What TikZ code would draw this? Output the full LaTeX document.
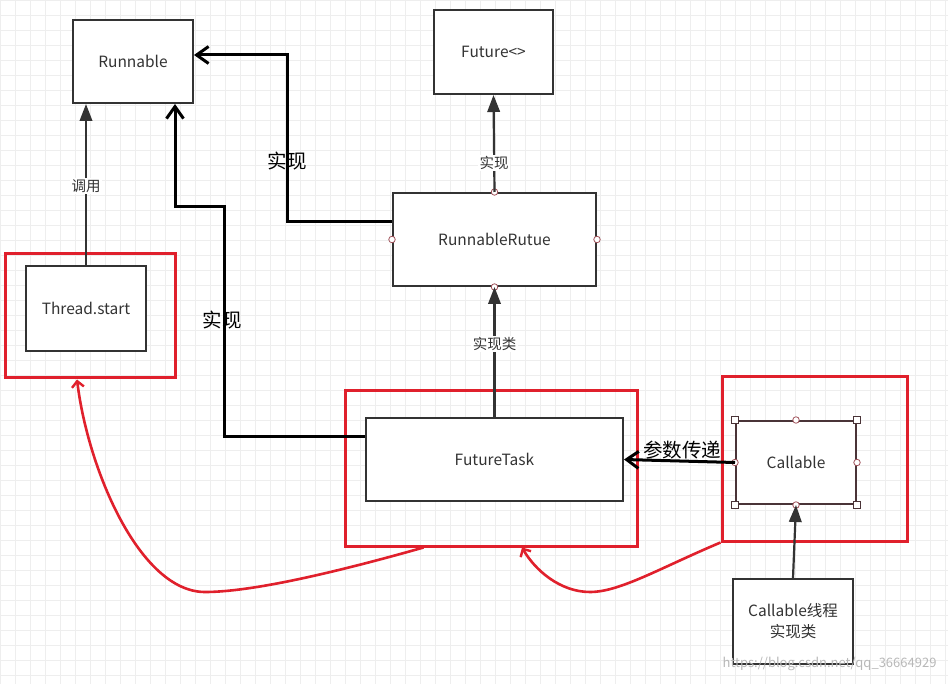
\documentclass[tikz,border=0pt]{standalone}
\usepackage{fontspec}
\setmainfont{Noto Sans CJK SC}
\usetikzlibrary{arrows.meta,calc}
\definecolor{boxc}{HTML}{333333}
\definecolor{redc}{HTML}{E0202C}
\definecolor{handlec}{HTML}{A0525A}
\definecolor{callc}{HTML}{4A3438}
\definecolor{gridc}{HTML}{EEEEEE}
\tikzset{
  umlbox/.style={draw=boxc, line width=2pt, fill=white, text=boxc, inner sep=2pt, align=center, font=\fontsize{15.5}{21}\selectfont},
  redbox/.style={draw=redc, line width=3pt},
  filledarrow/.style={draw=boxc, line width=2.2pt, -{Triangle[length=17pt,width=12.5pt]}},
  thickblack/.style={draw=black, line width=3pt, -{Straight Barb[length=12pt,width=17pt,line width=3pt]}},
  redcurve/.style={draw=redc, line width=2.6pt, -{Straight Barb[length=6pt,width=12pt,line width=2.4pt]}},
  smalllabel/.style={fill=white, text=boxc, inner sep=1.5pt, font=\fontsize{14.5}{16}\selectfont},
  biglabel/.style={text=black, inner sep=0pt, font=\fontsize{19.5}{22}\selectfont},
  handle/.style={circle, draw=handlec, fill=white, line width=0.8pt, minimum size=6.5pt, inner sep=0pt},
  sqhandle/.style={rectangle, draw=callc, fill=white, line width=0.8pt, minimum size=6.5pt, inner sep=0pt},
}
\begin{document}
\begin{tikzpicture}[x=1pt,y=-1pt]
\useasboundingbox (0,0) rectangle (948,684);
\fill[white] (0,0) rectangle (948,684);
% faint background grid
\foreach \gx in {0,15,...,945} \draw[gridc, line width=0.6pt] (\gx,0) -- (\gx,684);
\foreach \gy in {0,15,...,680} \draw[gridc, line width=0.6pt] (0,\gy) -- (948,\gy);

% boxes
\node[umlbox, minimum width=120pt, minimum height=83pt] (runnable) at (133,61.5) {Runnable};
\node[umlbox, minimum width=119pt, minimum height=84pt] (future) at (493.5,52) {Future<>};
\node[umlbox, minimum width=203pt, minimum height=93pt] (rr) at (494.5,239.5) {RunnableRutue};
\node[umlbox, minimum width=120pt, minimum height=85pt] (thread) at (86,308.5) {Thread.start};
\node[umlbox, minimum width=257pt, minimum height=83pt] (ft) at (494.5,459.5) {FutureTask};
\node[umlbox, draw=callc, minimum width=120pt, minimum height=83pt] (callable) at (796,462.5) {Callable};
\node[umlbox, minimum width=120pt, minimum height=85pt] (impl) at (793,621.5) {Callable线程\\实现类};

% red highlight boxes
\node[redbox, minimum width=170pt, minimum height=124pt, inner sep=0pt] (redT) at (90,316) {};
\node[redbox, minimum width=292pt, minimum height=155pt, inner sep=0pt] (redF) at (491,468.5) {};
\node[redbox, minimum width=185pt, minimum height=164pt, inner sep=0pt] (redC) at (814.5,459) {};

% handles on RunnableRutue
\foreach \a in {north,south,east,west} \node[handle] at (rr.\a) {};
% handles on Callable
\foreach \a in {north,south,east,west} \node[handle] at (callable.\a) {};
\foreach \a in {north east,south east,south west,north west} \node[sqhandle] at (callable.\a) {};

% connectors
\draw[filledarrow] (thread.north) -- (thread.north |- runnable.south)
  node[smalllabel, pos=0.49] (lblcall) {调用};
\draw[filledarrow] (rr.north) -- (future.south)
  node[smalllabel, pos=0.3] (lblimpl1) {实现};
\draw[filledarrow] (ft.north) -- (rr.south)
  node[smalllabel, pos=0.56] (lblimpl2) {实现类};
\draw[filledarrow] (impl.north) -- (callable.south);

\coordinate (p1) at ([yshift=17.5pt]rr.west);
\coordinate (p1b) at (287,222);
\draw[thickblack] (p1) -- (p1b) |- ([yshift=6.5pt]runnable.east);
\node[biglabel] (lblA) at (287,161) {实现};

\coordinate (p2) at ([yshift=22.5pt]ft.west);
\coordinate (p2a) at (224,437);
\coordinate (p2b) at (224,207);
\coordinate (p2c) at (175,207);
\draw[thickblack] (p2) -- (p2a) -- (p2b) -- (p2c) -- (p2c |- runnable.south);
\node[biglabel] (lblB) at (222,320) {实现};

\draw[thickblack] (callable.west) -- (ft.east);
\node[biglabel] (lblC) at (682,450) {参数传递};

% red curved arrows
\coordinate (r1s) at ([xshift=80pt]redF.south west);
\coordinate (r1m) at (205,592);
\draw[redcurve] (r1s) .. controls (330,574) and (250,592) .. (r1m)
  .. controls (140,592) and (88,470) .. ([xshift=-13pt]redT.south);
\coordinate (r2m) at (590,592);
\draw[redcurve] (redC.south west) .. controls (660,568) and (620,592) .. (r2m)
  .. controls (560,592) and (535,570) .. ([xshift=31pt]redF.south);

% watermark
\node[text=black!28, font=\fontsize{13}{15}\selectfont, anchor=east] (wm) at (940,664) {https://blog.csdn.net/qq\_36664929};
\end{tikzpicture}
\end{document}
